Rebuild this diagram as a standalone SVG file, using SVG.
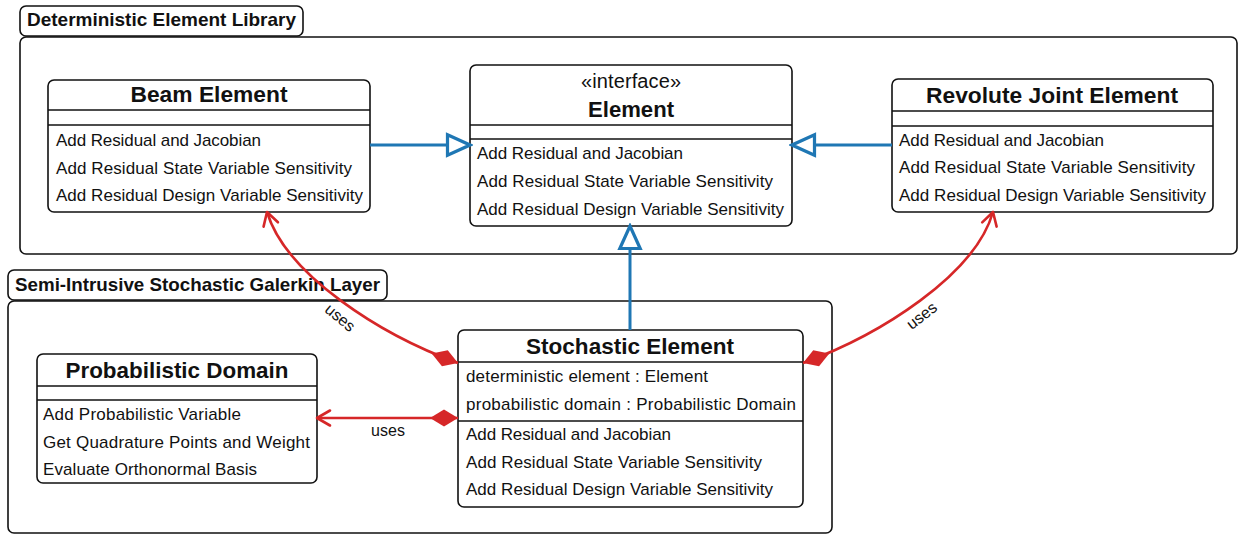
<svg xmlns="http://www.w3.org/2000/svg" width="1238" height="534" viewBox="0 0 1238 534">
<style>
.box{fill:#fff;stroke:#111;stroke-width:1.6}
.pkg{fill:#fff;stroke:#111;stroke-width:1.6}
.sep{stroke:#111;stroke-width:1.6}
.t{font-family:"Liberation Sans",Arial,sans-serif;font-size:17px;fill:#111}
.title{font-family:"Liberation Sans",Arial,sans-serif;font-size:22.5px;font-weight:bold;fill:#111;text-anchor:middle}
.plab{font-family:"Liberation Sans",Arial,sans-serif;font-size:18.5px;font-weight:bold;fill:#111}
.ster{font-family:"Liberation Sans",Arial,sans-serif;font-size:20px;fill:#111;text-anchor:middle}
.lbl{font-family:"Liberation Sans",Arial,sans-serif;font-size:16px;fill:#111;text-anchor:middle}
.gen{fill:none;stroke:#1f77b4;stroke-width:3}
.use{fill:none;stroke:#d62728;stroke-width:2.6}
</style>
<defs>
<marker id="tri" markerUnits="userSpaceOnUse" markerWidth="30" markerHeight="30" viewBox="-25 -13 28 26" refX="0" refY="0" orient="auto">
<path d="M-21,-9.5 L0,0 L-21,9.5 Z" fill="#fff" stroke="#1f77b4" stroke-width="3"/>
</marker>
<marker id="dia" markerUnits="userSpaceOnUse" markerWidth="34" markerHeight="22" viewBox="-2 -11 34 22" refX="0" refY="0" orient="auto">
<path d="M0,0 L14,-8.5 L28,0 L14,8.5 Z" fill="#d62728"/>
</marker>
<marker id="vee" markerUnits="userSpaceOnUse" markerWidth="20" markerHeight="20" viewBox="-16 -10 20 20" refX="0" refY="0" orient="auto">
<path d="M-13,-7.5 L0,0 L-13,7.5" fill="none" stroke="#d62728" stroke-width="2.6" stroke-linecap="round" stroke-linejoin="round"/>
</marker>
</defs>

<g id="pkg-deterministic">
<rect class="pkg" x="20" y="6" width="283" height="30" rx="6"/>
<text class="plab" x="27" y="26" textLength="269" lengthAdjust="spacingAndGlyphs">Deterministic Element Library</text>
<rect class="pkg" x="20" y="37" width="1217" height="217" rx="6"/>
</g>

<g id="pkg-stochastic">
<rect class="pkg" x="8" y="270" width="379" height="30" rx="6"/>
<text class="plab" x="15" y="291" textLength="365" lengthAdjust="spacingAndGlyphs">Semi-Intrusive Stochastic Galerkin Layer</text>
<rect class="pkg" x="8" y="301" width="824" height="232" rx="6"/>
</g>

<g id="beam-element">
<rect class="box" x="48" y="80" width="322" height="132" rx="6"/>
<text class="title" x="209" y="102" textLength="157" lengthAdjust="spacingAndGlyphs">Beam Element</text>
<line class="sep" x1="48" y1="110" x2="370" y2="110"/>
<line class="sep" x1="48" y1="125" x2="370" y2="125"/>
<text class="t" x="56" y="146" textLength="205">Add Residual and Jacobian</text>
<text class="t" x="56" y="173.5" textLength="296">Add Residual State Variable Sensitivity</text>
<text class="t" x="56" y="201" textLength="307">Add Residual Design Variable Sensitivity</text>
</g>

<g id="element-interface">
<rect class="box" x="470" y="65" width="322" height="161" rx="6"/>
<text class="ster" x="631" y="88" textLength="100">«interface»</text>
<text class="title" x="631" y="117" textLength="86" lengthAdjust="spacingAndGlyphs">Element</text>
<line class="sep" x1="470" y1="125" x2="792" y2="125"/>
<line class="sep" x1="470" y1="139" x2="792" y2="139"/>
<text class="t" x="477" y="159" textLength="206">Add Residual and Jacobian</text>
<text class="t" x="477" y="187" textLength="296">Add Residual State Variable Sensitivity</text>
<text class="t" x="477" y="214.5" textLength="307">Add Residual Design Variable Sensitivity</text>
</g>

<g id="revolute-joint-element">
<rect class="box" x="892" y="79" width="321" height="133" rx="6"/>
<text class="title" x="1052" y="103" textLength="252" lengthAdjust="spacingAndGlyphs">Revolute Joint Element</text>
<line class="sep" x1="892" y1="111" x2="1213" y2="111"/>
<line class="sep" x1="892" y1="126" x2="1213" y2="126"/>
<text class="t" x="899" y="145.5" textLength="205">Add Residual and Jacobian</text>
<text class="t" x="899" y="173" textLength="296">Add Residual State Variable Sensitivity</text>
<text class="t" x="899" y="200.5" textLength="307">Add Residual Design Variable Sensitivity</text>
</g>

<g id="probabilistic-domain">
<rect class="box" x="37" y="354" width="280" height="129" rx="6"/>
<text class="title" x="177" y="378" textLength="223" lengthAdjust="spacingAndGlyphs">Probabilistic Domain</text>
<line class="sep" x1="37" y1="386" x2="317" y2="386"/>
<line class="sep" x1="37" y1="400" x2="317" y2="400"/>
<text class="t" x="43" y="420" textLength="198">Add Probabilistic Variable</text>
<text class="t" x="43" y="447.5" textLength="267">Get Quadrature Points and Weight</text>
<text class="t" x="43" y="475" textLength="214">Evaluate Orthonormal Basis</text>
</g>

<g id="stochastic-element">
<rect class="box" x="458" y="330" width="345" height="177" rx="6"/>
<text class="title" x="630" y="354" textLength="208" lengthAdjust="spacingAndGlyphs">Stochastic Element</text>
<line class="sep" x1="458" y1="362" x2="803" y2="362"/>
<text class="t" x="466" y="382" textLength="242">deterministic element : Element</text>
<text class="t" x="466" y="410" textLength="330">probabilistic domain : Probabilistic Domain</text>
<line class="sep" x1="458" y1="421" x2="803" y2="421"/>
<text class="t" x="466" y="440" textLength="205">Add Residual and Jacobian</text>
<text class="t" x="466" y="467.5" textLength="296">Add Residual State Variable Sensitivity</text>
<text class="t" x="466" y="495" textLength="307">Add Residual Design Variable Sensitivity</text>
</g>

<g id="connectors">
<path class="gen" d="M370,145 L470,145" marker-end="url(#tri)"/>
<path class="gen" d="M892,145 L792,145" marker-end="url(#tri)"/>
<path class="gen" d="M630,330 L630,226" marker-end="url(#tri)"/>
<path class="use" d="M458,418 L317,418" marker-start="url(#dia)" marker-end="url(#vee)"/>
<path class="use" d="M458,363 C381,335 286,275 267,212" marker-start="url(#dia)" marker-end="url(#vee)"/>
<path class="use" d="M803,363 C880,335 975,275 993,212" marker-start="url(#dia)" marker-end="url(#vee)"/>
<text class="lbl" x="388" y="436">uses</text>
<text class="lbl" transform="translate(340,318) rotate(40)" x="0" y="5">uses</text>
<text class="lbl" transform="translate(922,316) rotate(-38)" x="0" y="5">uses</text>
</g>
</svg>
